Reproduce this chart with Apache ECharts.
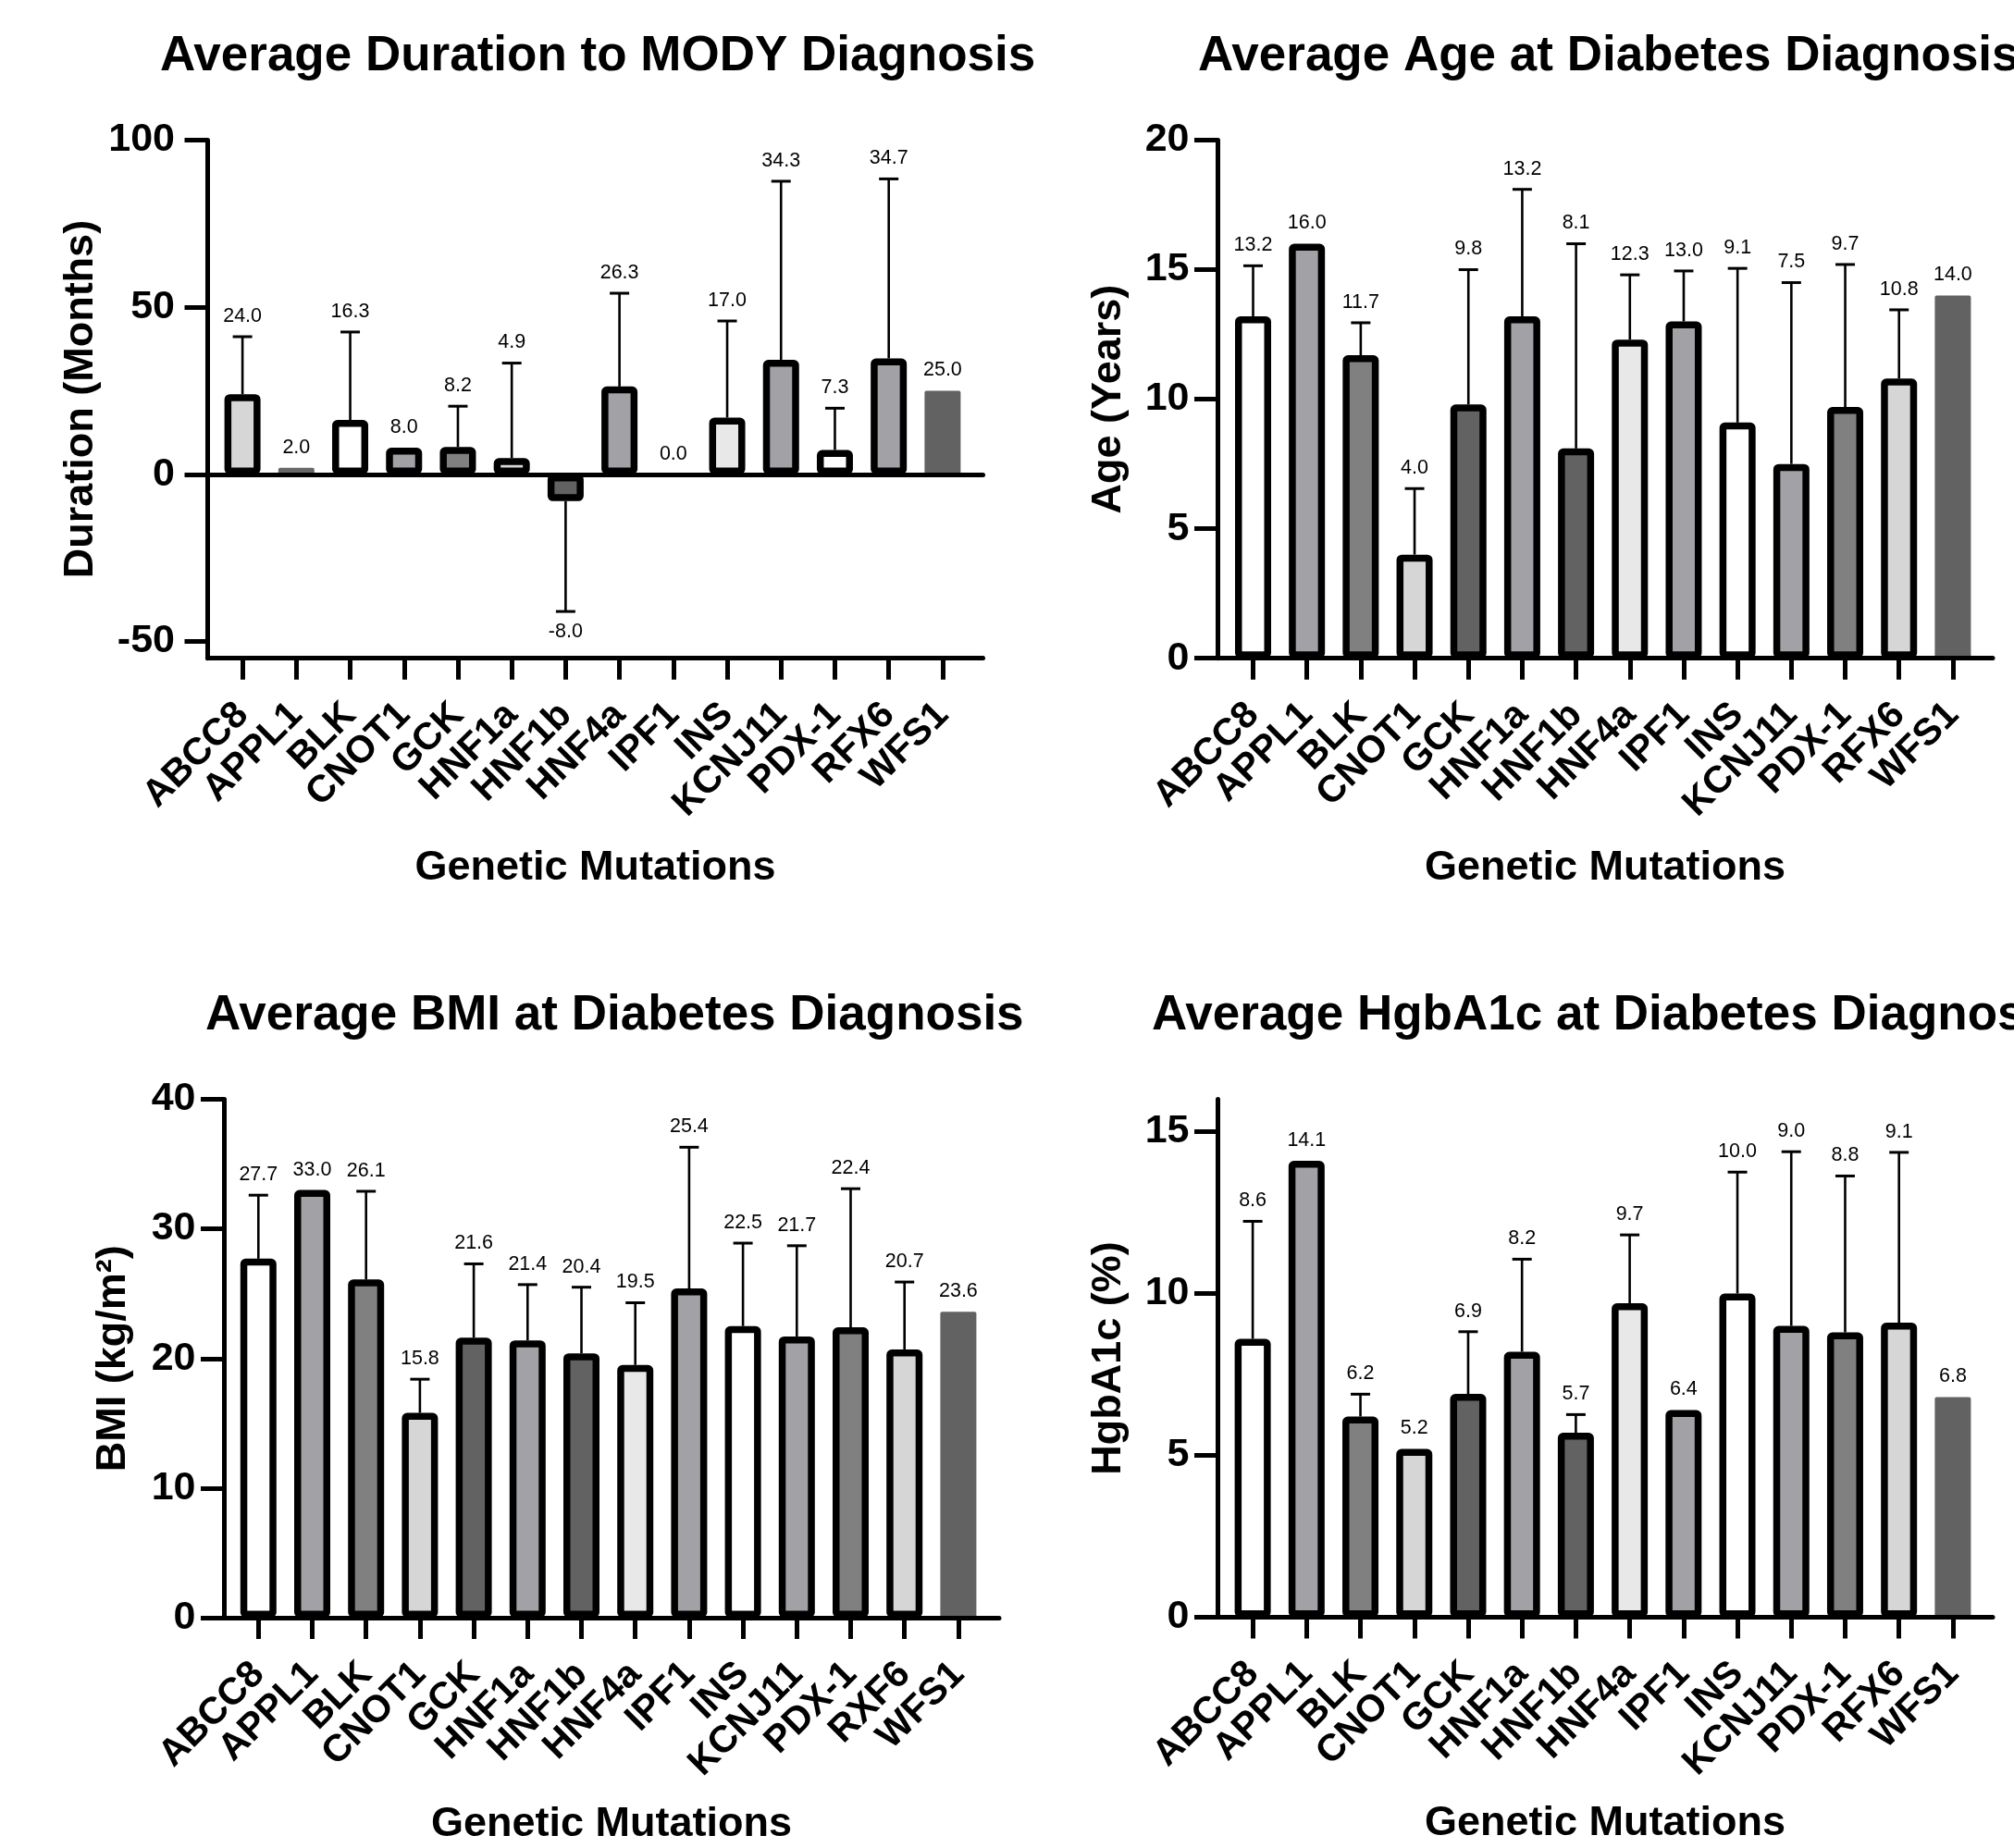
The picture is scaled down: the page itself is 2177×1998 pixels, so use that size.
<!DOCTYPE html>
<html>
<head>
<meta charset="utf-8">
<script src="https://cdn.jsdelivr.net/npm/echarts@6/dist/echarts.min.js"></script>
<style>
html,body{margin:0;padding:0;background:#ffffff;}
#chart{width:2177px;height:1998px;}
</style>
</head>
<body>
<div id="chart"></div>
<script>
// ---------------- DATA ----------------
const genesA = ['ABCC8','APPL1','BLK','CNOT1','GCK','HNF1a','HNF1b','HNF4a','IPF1','INS','KCNJ11','PDX-1','RFX6','WFS1'];
const genesBMI = ['ABCC8','APPL1','BLK','CNOT1','GCK','HNF1a','HNF1b','HNF4a','IPF1','INS','KCNJ11','PDX-1','RXF6','WFS1'];

const durationMean = [24.0, 2.0, 16.3, 8.0, 8.2, 4.9, -8.0, 26.3, 0.0, 17.0, 34.3, 7.3, 34.7, 25.0];
const durationSD   = [17.2, null, 26.3, null, 12.2, 28.4, 33.0, 27.9, null, 28.9, 53.4, 12.5, 53.7, null];
const durationTicks = [-50, 0, 50, 100];

const ageMean = [13.2, 16.0, 11.7, 4.0, 9.8, 13.2, 8.1, 12.3, 13.0, 9.1, 7.5, 9.7, 10.8, 14.0];
const ageSD   = [1.95, null, 1.25, 2.55, 5.2, 4.9, 7.9, 2.5, 1.95, 5.95, 7.0, 5.5, 2.65, null];
const ageTicks = [0, 5, 10, 15, 20];

const bmiMean = [27.7, 33.0, 26.1, 15.8, 21.6, 21.4, 20.4, 19.5, 25.4, 22.5, 21.7, 22.4, 20.7, 23.6];
const bmiSD   = [4.9, null, 6.8, 2.6, 5.7, 4.3, 5.1, 4.8, 10.9, 6.4, 7.0, 10.7, 5.2, null];
const bmiTicks = [0, 10, 20, 30, 40];

const a1cMean = [8.6, 14.1, 6.2, 5.2, 6.9, 8.2, 5.7, 9.7, 6.4, 10.0, 9.0, 8.8, 9.1, 6.8];
const a1cSD   = [3.63, null, 0.69, null, 1.92, 2.86, 0.56, 2.11, null, 3.75, 5.38, 4.83, 5.26, null];
const a1cTicks = [0, 5, 10, 15];

// ---------------- STYLES ----------------
const W = '#ffffff', L1 = '#d6d6d6', L2 = '#e8e8e8', M = '#a1a1a6', D1 = '#808080', D2 = '#626262';
const fillDuration = [L1, '#686868', W, M, D1, L1, D2, M, W, L2, M, W, M, D2];
const borderDuration = [1,0,1,1,1,1,1,1,0,1,1,1,1,0];
const fillOther = [W, M, D1, L1, D2, M, D2, L2, M, W, M, D1, L1, D2];
const borderOther = [1,1,1,1,1,1,1,1,1,1,1,1,1,0];

const FONT = "'Liberation Sans', Arial, Helvetica, sans-serif";

const panels = [
  {title:'Average Duration to MODY Diagnosis', titleLeft:173, titleTop:35,
   yName:'Duration (Months)', yNameGap:114, xNameGap:204, labelMargin:35.5,
   cats:genesA, mean:durationMean, sd:durationSD, fill:fillDuration, border:borderDuration,
   yMin:-55, yMax:100, ticks:durationTicks,
   axisX:224.5, right:1062.5, bandL:233, bandR:1048, top:151.5, bottom:711.7, zeroLine:true},
  {title:'Average Age at Diabetes Diagnosis', titleLeft:1295, titleTop:35,
   yName:'Age (Years)', yNameGap:95, xNameGap:204, labelMargin:30.5,
   cats:genesA, mean:ageMean, sd:ageSD, fill:fillOther, border:borderOther,
   yMin:0, yMax:20, ticks:ageTicks,
   axisX:1316, right:2154, bandL:1325.4, bandR:2140, top:151.5, bottom:711.7, zeroLine:false},
  {title:'Average BMI at Diabetes Diagnosis', titleLeft:222, titleTop:1072,
   yName:'BMI (kg/m²)', yNameGap:97, xNameGap:201, labelMargin:30.5,
   cats:genesBMI, mean:bmiMean, sd:bmiSD, fill:fillOther, border:borderOther,
   yMin:0, yMax:40, ticks:bmiTicks,
   axisX:242, right:1080, bandL:250.2, bandR:1065, top:1188.5, bottom:1749, zeroLine:false},
  {title:'Average HgbA1c at Diabetes Diagnosis', titleLeft:1245, titleTop:1072,
   yName:'HgbA1c (%)', yNameGap:95, xNameGap:201, labelMargin:30.5,
   cats:genesA, mean:a1cMean, sd:a1cSD, fill:fillOther, border:borderOther,
   yMin:0, yMax:16, ticks:a1cTicks,
   axisX:1316, right:2154, bandL:1325, bandR:2140, top:1188.5, bottom:1748.5, zeroLine:false}
];

// error bar (upper or lower SD whisker with cap) plus the value label
function renderErr(params, api) {
  const i = api.value(0), m = api.value(1), e = api.value(2), has = api.value(3);
  const pm = api.coord([i, m]);
  const pe = api.coord([i, e]);
  const children = [];
  if (has) {
    children.push({type:'line', shape:{x1:pm[0], y1:pm[1], x2:pe[0], y2:pe[1]},
      style:{stroke:'#000', lineWidth:2.6}});
    children.push({type:'line', shape:{x1:pe[0]-10.5, y1:pe[1], x2:pe[0]+10.5, y2:pe[1]},
      style:{stroke:'#000', lineWidth:3}});
  }
  const neg = m < 0;
  children.push({type:'text', x:pe[0], y: neg ? pe[1] + 11 : pe[1] - 11,
    style:{text:m.toFixed(1), fill:'#000', fontSize:21.5, fontFamily:FONT,
      align:'center', verticalAlign: neg ? 'top' : 'bottom'}});
  return {type:'group', children:children};
}

const option = {backgroundColor:'#ffffff', animation:false, title:[], grid:[], xAxis:[], yAxis:[], series:[]};

panels.forEach(function(p){
  const gD = option.grid.length, gF = gD + 1;
  // data grid (category bands) and frame grid (axis lines)
  option.grid.push({left:p.bandL, width:p.bandR - p.bandL, top:p.top, height:p.bottom - p.top});
  option.grid.push({left:p.axisX, width:p.right - p.axisX, top:p.top, height:p.bottom - p.top});

  option.title.push({text:p.title, left:p.titleLeft, top:p.titleTop, padding:0,
    textStyle:{fontFamily:FONT, fontWeight:'bold', fontSize:53, color:'#000'}});

  const xD = option.xAxis.length;
  option.xAxis.push({type:'category', gridIndex:gD, data:p.cats, position:'bottom',
    axisLine:{show:false, onZero:false},
    axisTick:{show:true, alignWithLabel:true, length:23, lineStyle:{color:'#000', width:5}},
    axisLabel:{interval:0, rotate:45, margin:55, color:'#000',
      fontFamily:FONT, fontWeight:'bold', fontSize:41},
    splitLine:{show:false}});
  option.xAxis.push({type:'value', gridIndex:gF, min:0, max:1, position:'bottom', z:5,
    axisLine:{show:true, onZero:false, lineStyle:{color:'#000', width:5}},
    axisTick:{show:false}, axisLabel:{show:false}, splitLine:{show:false},
    name:'Genetic Mutations', nameLocation:'middle', nameGap:p.xNameGap,
    nameTextStyle:{fontFamily:FONT, fontWeight:'bold', fontSize:45, color:'#000'}});
  if (p.zeroLine) {
    option.xAxis.push({type:'value', gridIndex:gF, min:0, max:1, position:'top', z:5,
      axisLine:{show:true, onZero:true, lineStyle:{color:'#000', width:5}},
      axisTick:{show:false}, axisLabel:{show:false}, splitLine:{show:false}});
  }

  const yD = option.yAxis.length;
  option.yAxis.push({type:'value', gridIndex:gD, min:p.yMin, max:p.yMax, show:false, splitLine:{show:false}});
  option.yAxis.push({type:'value', gridIndex:gF, min:p.yMin, max:p.yMax, position:'left',
    axisLine:{show:true, onZero:false, lineStyle:{color:'#000', width:5}},
    axisTick:{show:true, length:25, customValues:p.ticks, lineStyle:{color:'#000', width:5}},
    axisLabel:{customValues:p.ticks, margin:p.labelMargin, color:'#000', fontFamily:FONT, fontWeight:'bold', fontSize:43},
    splitLine:{show:false},
    name:p.yName, nameLocation:'middle', nameGap:p.yNameGap,
    nameTextStyle:{fontFamily:FONT, fontWeight:'bold', fontSize:45, color:'#000'}});

  option.series.push({type:'bar', xAxisIndex:xD, yAxisIndex:yD, barWidth:39, z:2,
    data:p.mean.map(function(v, i){
      return {value:v, itemStyle:{color:p.fill[i], borderColor:'#000',
        borderWidth: p.border[i] ? 7.5 : 0, borderRadius:2}};
    })});
  option.series.push({type:'custom', xAxisIndex:xD, yAxisIndex:yD, z:4, renderItem:renderErr,
    data:p.mean.map(function(v, i){
      const s = p.sd[i];
      return [i, v, s == null ? v : (v < 0 ? v - s : v + s), s == null ? 0 : 1];
    })});
});

const chart = echarts.init(document.getElementById('chart'), null, {renderer:'canvas'});
chart.setOption(option);
</script>
</body>
</html>
